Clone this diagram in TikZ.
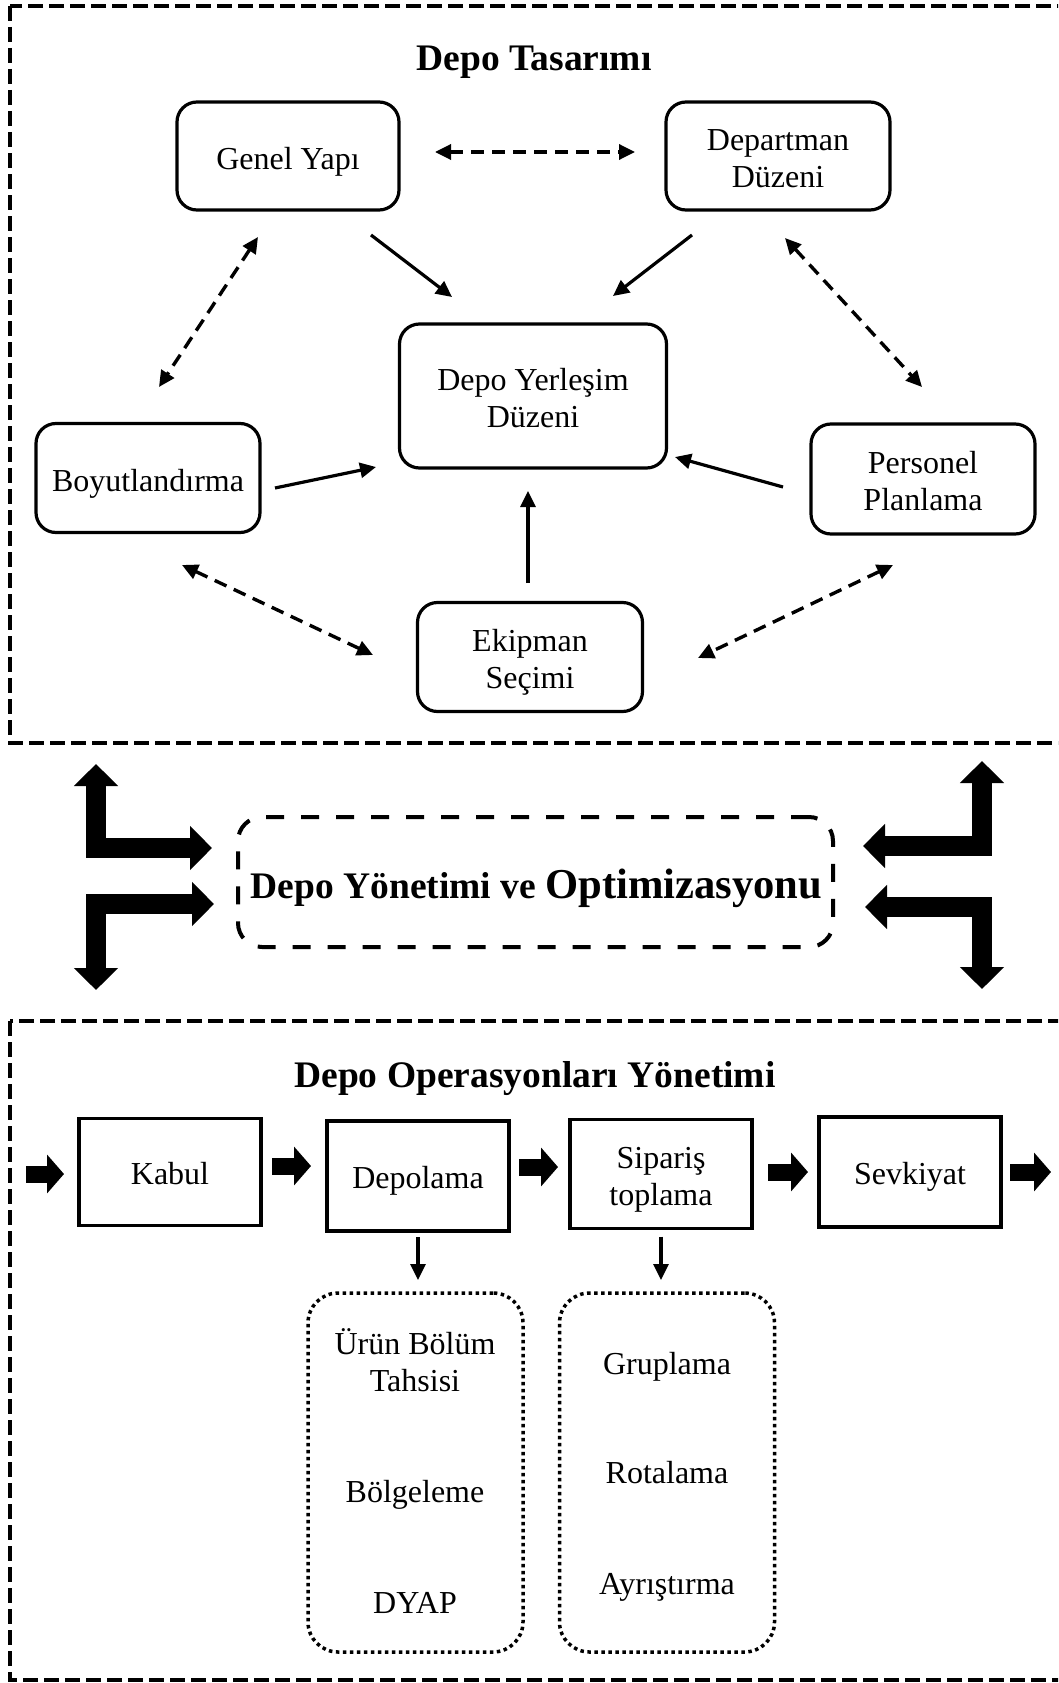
\documentclass[tikz,border=0pt]{standalone}
\usepackage{fontspec}
\setmainfont{Liberation Serif}
\usetikzlibrary{arrows.meta,calc}

% two centred lines with a fixed line pitch
\newcommand{\pairlines}[2]{\begin{tabular}[t]{@{}c@{}}#1\\#2\end{tabular}}

\begin{document}
\begin{tikzpicture}[x=1pt,y=-1pt,
  txt/.style={font=\fontsize{32}{37.5}\selectfont, inner sep=0pt},
  ttl/.style={font=\bfseries\fontsize{37.5}{42}\selectfont, inner sep=0pt},
  rbox/.style={txt, draw, line width=3.2pt, rounded corners=20pt, outer sep=0pt,
               minimum width=#1, minimum height=108pt, text height=33pt, text depth=7pt},
  pbox/.style={txt, draw, line width=3.2pt, outer sep=0pt,
               minimum width=182pt, minimum height=109pt, text height=31pt, text depth=7pt},
  two/.style={text height=32pt, text depth=43.5pt},
  frame/.style={draw, line width=4pt, dash pattern=on 15pt off 6pt},
  midbox/.style={draw, line width=4pt, dash pattern=on 18pt off 17pt, rounded corners=24pt,
                 outer sep=0pt, minimum width=595pt, minimum height=130pt},
  dotbox/.style={draw, line width=3.5pt, dash pattern=on 3.5pt off 3.5pt, rounded corners=30pt,
                 outer sep=0pt, minimum width=215pt, minimum height=359pt},
  tip/.tip={Triangle[length=16pt,width=15pt]},
  arr/.style={line width=3.2pt, -tip},
  darr/.style={line width=3.4pt, tip-tip, dash pattern=on 13pt off 8pt},
  blk/.style={line width=17pt, -{Triangle[length=17pt,width=38pt]}},
  big/.style={line width=20pt, line join=miter,
              {Triangle[length=22pt,width=43pt]}-{Triangle[length=22pt,width=43pt]}}
]
\useasboundingbox (0,0) rectangle (1058,1683);

% outer dashed frames of the two sections
\begin{scope}
  \clip (0,0) rectangle (1058,1683);
  \draw[frame] (10,6) rectangle (1085,743);
  \draw[frame] (10,1021) rectangle (1085,1680);
\end{scope}

% ---------- warehouse design ----------
\node[ttl, anchor=base] (t1) at (534,71) {Depo Tasarımı};

\node[rbox=222pt] (gy) at (288,156) {Genel Yapı};
\node[rbox=224pt, two] (dd) at (778,156) {\pairlines{Departman}{Düzeni}};
\node[rbox=267pt, two, minimum height=144pt] (dy) at (533,396) {\pairlines{Depo Yerleşim}{Düzeni}};
\node[rbox=224pt, minimum height=109pt] (by) at (148,478) {Boyutlandırma};
\node[rbox=224pt, two, minimum height=110pt] (pp) at (923,479) {\pairlines{Personel}{Planlama}};
\node[rbox=225pt, two, minimum height=109pt] (es) at (530,657) {\pairlines{Ekipman}{Seçimi}};

\draw[darr] ($(gy)+(147,-4)$) -- ($(dd)+(-143,-4)$);
\draw[arr]  ($(gy)+(83,79)$) -- ($(dy)+(-81,-99)$);
\draw[arr]  ($(dd)+(-86,79)$) -- ($(dy)+(80,-100)$);
\draw[darr] ($(gy)+(-30,81)$) -- ($(by)+(11,-91)$);
\draw[darr] ($(dd)+(7,82)$) -- ($(pp)+(-1,-92)$);
\draw[arr]  ($(by)+(127,10)$) -- ($(dy)+(-157,71)$);
\draw[arr]  ($(pp)+(-140,8)$) -- ($(dy)+(142,61)$);
\draw[arr]  ($(es)+(-2,-74)$) -- ($(dy)+(-5,95)$);
\draw[darr] ($(by)+(34,87)$) -- ($(es)+(-157,-2)$);
\draw[darr] ($(pp)+(-30,86)$) -- ($(es)+(168,1)$);

% ---------- central management box ----------
\node[midbox] (mid) at (535.5,882) {};
\node[anchor=base, inner sep=0pt] (midt) at ($(mid.center)+(1,16)$)
  {\bfseries\fontsize{37.5}{42}\selectfont Depo Yönetimi ve \fontsize{42.6}{48}\selectfont Optimizasyonu};

\coordinate (lt) at (96,764);
\coordinate (lb) at (96,990);
\coordinate (rt) at (982,761);
\coordinate (rb) at (982,989);
\draw[big] (lt) |- ($(mid.west)+(-26,-34)$);
\draw[big] (lb) |- ($(mid.west)+(-24,22)$);
\draw[big] (rt) |- ($(mid.east)+(30,-36)$);
\draw[big] (rb) |- ($(mid.east)+(32,25)$);

% ---------- warehouse operations ----------
\node[ttl, anchor=base] (t2) at (535,1087) {Depo Operasyonları Yönetimi};

\node[pbox, minimum height=107pt] (kb) at (170,1172) {Kabul};
\node[pbox, minimum height=110pt] (dp) at (418,1176) {Depolama};
\node[pbox, two] (sp) at (661,1174) {\pairlines{Sipariş}{toplama}};
\node[pbox, minimum height=110pt] (sv) at (910,1172) {Sevkiyat};

\coordinate (in) at (26,1174);
\coordinate (out) at (1051,1172);
\draw[blk] (in) -- ($(kb.west)+(-15,2)$);
\draw[blk] ($(kb.east)+(11,-6)$) -- ($(dp.west)+(-16,-10)$);
\draw[blk] ($(dp.east)+(10,-9)$) -- ($(sp.west)+(-12,-7)$);
\draw[blk] ($(sp.east)+(16,-2)$) -- ($(sv.west)+(-11,0)$);
\draw[blk] ($(sv.east)+(9,0)$) -- (out);

\node[dotbox] (db1) at (415.5,1472.5) {};
\node[dotbox] (db2) at (667,1472.5) {};

\draw[arr] ($(dp.south)+(0,6)$) -- ($(dp.south |- db1.north)+(0,-13)$);
\draw[arr] ($(sp.south)+(0,8)$) -- ($(sp.south |- db2.north)+(0,-13)$);

\node[txt, anchor=base] (urun) at (415,1354) {\pairlines{Ürün Bölüm}{Tahsisi}};
\node[txt, anchor=base] (bolg) at (415,1502) {Bölgeleme};
\node[txt, anchor=base] (dyap) at (415,1613) {DYAP};
\node[txt, anchor=base] (grup) at (667,1374) {Gruplama};
\node[txt, anchor=base] (rota) at (667,1483) {Rotalama};
\node[txt, anchor=base] (ayr) at (667,1594) {Ayrıştırma};
\end{tikzpicture}
\end{document}
